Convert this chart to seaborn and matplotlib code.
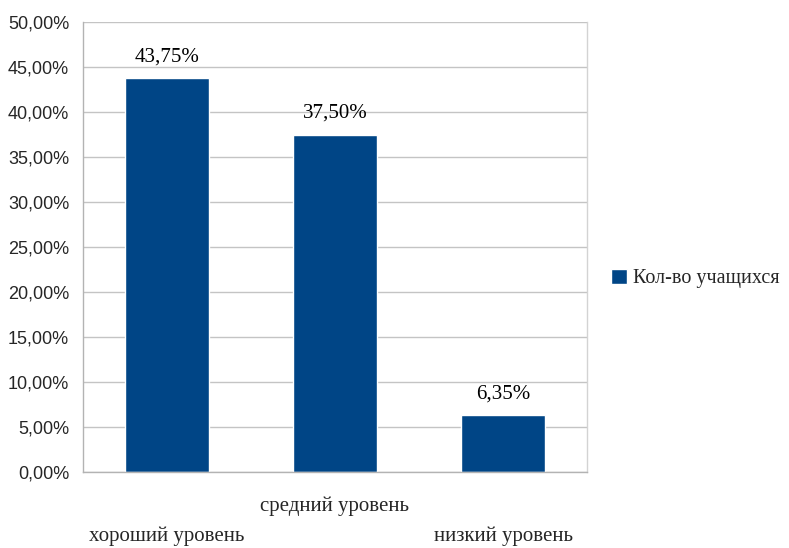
import matplotlib
matplotlib.use("Agg")
import matplotlib.pyplot as plt
import seaborn as sns
import pandas as pd
from matplotlib.ticker import FuncFormatter, MultipleLocator

categories = ["хороший уровень", "средний уровень", "низкий уровень"]
values = [43.75, 37.50, 6.35]
series_name = "Кол-во учащихся"

sns.set_theme(style="white")
plt.rcParams['font.family'] = ['Liberation Serif', 'DejaVu Serif']

df = pd.DataFrame({"cat": categories, "val": values, "series": series_name})

fig = plt.figure(figsize=(7.89, 5.48), dpi=100)
ax = fig.add_axes([83/789, 76/548, (587-83)/789, 450/548])

sns.barplot(data=df, x="cat", y="val", hue="series", palette=["#004586"],
            width=0.5, ax=ax, saturation=1, legend=True)

ax.set_ylim(0, 50)
ax.set_xlim(-0.5, 2.5)
ax.yaxis.set_major_locator(MultipleLocator(5))
ax.yaxis.set_major_formatter(FuncFormatter(lambda v, p: f"{v:.2f}".replace(".", ",") + "%"))
ax.grid(axis="y", color="#c4c4c4", linewidth=1)
ax.set_axisbelow(True)
ax.spines["top"].set_visible(False)
ax.spines["right"].set_color("#d3d3d3")
ax.spines["right"].set_linewidth(1)
for s in ["left", "bottom"]:
    ax.spines[s].set_color("#b3b3b3")
    ax.spines[s].set_linewidth(1)

ax.tick_params(axis="y", length=8, color="#b3b3b3", width=1, pad=2,
               labelsize=13)
for t in ax.get_yticklabels():
    t.set_fontfamily("Liberation Sans")

# category boundary ticks on x
ax.set_xticks([-0.5, 0.5, 1.5, 2.5], minor=True)
ax.tick_params(axis="x", which="minor", length=8, color="#c4c4c4", width=1)
ax.set_xticks([0, 1, 2])
labels = [("\n" if i % 2 == 0 else "") + c for i, c in enumerate(categories)]
ax.set_xticklabels(labels, fontsize=15, linespacing=1.75)
ax.tick_params(axis="x", which="major", length=0, pad=18)
ax.set_xlabel("")
ax.set_ylabel("")

for i, v in enumerate(values):
    ax.text(i, v + 1.3, f"{v:.2f}".replace(".", ",") + "%", ha="center",
            va="bottom", fontsize=15, color="black")

leg = ax.legend(loc="center left", bbox_to_anchor=(1.024, 0.43), frameon=False,
                fontsize=14.5, handlelength=0.8, handleheight=0.8, handletextpad=0.3,
                borderaxespad=0.2)

fig.savefig("out.png", dpi=100)
